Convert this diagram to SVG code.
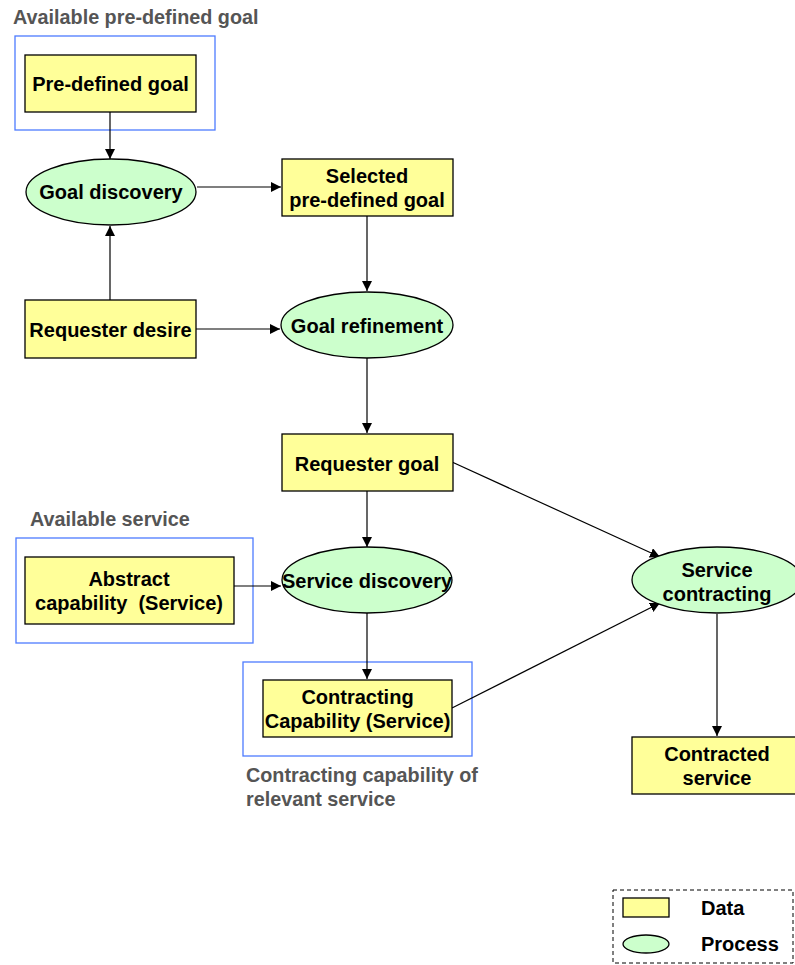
<svg xmlns="http://www.w3.org/2000/svg" width="795" height="965" viewBox="0 0 795 965">
  <style>
    .data { fill: #FFFF99; stroke: #000; stroke-width: 1.3; }
    .proc { fill: #CCFFCC; stroke: #000; stroke-width: 1.3; }
    .group { fill: none; stroke: #4D7BFF; stroke-width: 1.3; }
    .t { font-family: "Liberation Sans", Arial, sans-serif; font-weight: bold; font-size: 20px; fill: #000; text-anchor: middle; white-space: pre; }
    .lbl { font-family: "Liberation Sans", Arial, sans-serif; font-weight: bold; font-size: 19.8px; fill: #555; }
    .edge { stroke: #000; stroke-width: 1.2; fill: none; marker-end: url(#arr); }
  </style>
  <defs>
    <marker id="arr" viewBox="0 0 10 10" refX="10" refY="5" markerWidth="10" markerHeight="10" markerUnits="userSpaceOnUse" orient="auto">
      <path d="M0,0 L10,5 L0,10 z" fill="#000"/>
    </marker>
  </defs>
  <rect width="795" height="965" fill="#fff"/>

  <!-- grouping frames and their captions -->
  <g id="available-goal">
    <rect class="group" x="15" y="36" width="200" height="94"/>
    <text class="lbl" x="13" y="24">Available pre-defined goal</text>
  </g>
  <g id="available-service">
    <rect class="group" x="16" y="538" width="237" height="105"/>
    <text class="lbl" x="30" y="526">Available service</text>
  </g>
  <g id="relevant-service">
    <rect class="group" x="243" y="662" width="229" height="94"/>
    <text class="lbl" x="246" y="782">Contracting capability of</text>
    <text class="lbl" x="246" y="806">relevant service</text>
  </g>

  <!-- connectors -->
  <g id="connectors">
    <line class="edge" x1="110" y1="112" x2="110" y2="159"/>
    <line class="edge" x1="197" y1="187" x2="281" y2="187"/>
    <line class="edge" x1="110" y1="300" x2="110" y2="226"/>
    <line class="edge" x1="367" y1="216" x2="367" y2="291"/>
    <line class="edge" x1="196" y1="329" x2="280" y2="329"/>
    <line class="edge" x1="367" y1="358" x2="367" y2="433"/>
    <line class="edge" x1="452" y1="462" x2="660" y2="557"/>
    <line class="edge" x1="367" y1="491" x2="367" y2="547"/>
    <line class="edge" x1="234" y1="586" x2="281" y2="586"/>
    <line class="edge" x1="367" y1="613" x2="367" y2="679"/>
    <line class="edge" x1="452" y1="708" x2="660" y2="603"/>
    <line class="edge" x1="717" y1="614" x2="717" y2="736"/>
  </g>

  <!-- nodes -->
  <g id="predefined-goal">
    <rect class="data" x="25" y="55" width="171" height="57"/>
    <text class="t" x="110.5" y="91">Pre-defined goal</text>
  </g>
  <g id="goal-discovery">
    <ellipse class="proc" cx="111" cy="192" rx="85" ry="33"/>
    <text class="t" x="111" y="199">Goal discovery</text>
  </g>
  <g id="selected-goal">
    <rect class="data" x="282" y="159" width="171" height="57"/>
    <text class="t" x="367" y="183">Selected</text>
    <text class="t" x="367" y="207">pre-defined goal</text>
  </g>
  <g id="requester-desire">
    <rect class="data" x="25" y="300" width="171" height="58"/>
    <text class="t" x="110.5" y="337">Requester desire</text>
  </g>
  <g id="goal-refinement">
    <ellipse class="proc" cx="367" cy="325" rx="86" ry="33"/>
    <text class="t" x="367" y="333">Goal refinement</text>
  </g>
  <g id="requester-goal">
    <rect class="data" x="282" y="434" width="171" height="57"/>
    <text class="t" x="367" y="471">Requester goal</text>
  </g>
  <g id="abstract-capability">
    <rect class="data" x="25" y="557" width="209" height="67"/>
    <text class="t" x="129" y="586">Abstract</text>
    <text class="t" x="129" y="610" xml:space="preserve">capability  (Service)</text>
  </g>
  <g id="service-discovery">
    <ellipse class="proc" cx="367" cy="580" rx="85" ry="33"/>
    <text class="t" x="367" y="588">Service discovery</text>
  </g>
  <g id="contracting-capability">
    <rect class="data" x="263" y="680" width="189" height="57"/>
    <text class="t" x="357.5" y="704">Contracting</text>
    <text class="t" x="357.5" y="728">Capability (Service)</text>
  </g>
  <g id="service-contracting">
    <ellipse class="proc" cx="717" cy="580" rx="85" ry="33"/>
    <text class="t" x="717" y="577">Service</text>
    <text class="t" x="717" y="601">contracting</text>
  </g>
  <g id="contracted-service">
    <rect class="data" x="632" y="737" width="171" height="57"/>
    <text class="t" x="717" y="761">Contracted</text>
    <text class="t" x="717" y="785">service</text>
  </g>

  <!-- legend -->
  <g id="legend">
    <rect x="613" y="890" width="180" height="73" fill="none" stroke="#000" stroke-width="1" stroke-dasharray="4,3"/>
    <rect class="data" x="623" y="898" width="46" height="19" stroke-width="1"/>
    <text class="t" x="701" y="915" style="text-anchor:start">Data</text>
    <ellipse class="proc" cx="646" cy="944" rx="23" ry="9" stroke-width="1"/>
    <text class="t" x="701" y="951" style="text-anchor:start">Process</text>
  </g>
</svg>
